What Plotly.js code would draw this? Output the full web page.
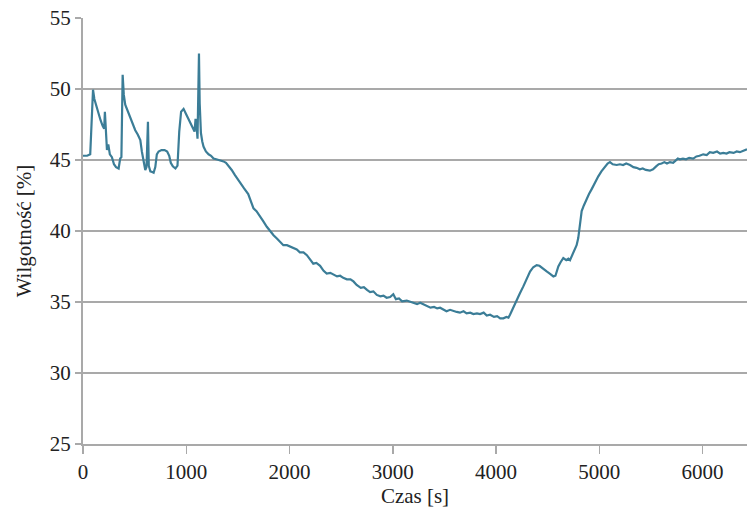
<!DOCTYPE html>
<html>
<head>
<meta charset="utf-8">
<script src="https://cdn.plot.ly/plotly-3.0.1.min.js"></script>
<style>
  html, body { margin: 0; padding: 0; background: #ffffff; }
  #chart { width: 747px; height: 514px; }
  #chart text { font-family: "Liberation Serif", "DejaVu Serif", serif !important; }
</style>
</head>
<body>
<div id="chart"></div>
<script>
// Measured humidity over time
const timeS = [
  0, 40, 70, 85, 97, 110, 130, 150, 170, 190, 205, 212, 220, 232, 245, 260, 280, 300, 320, 345,
  360, 372, 384, 395, 409, 430, 458, 480, 506, 530, 555, 570, 587, 603, 615, 629, 637, 652, 670, 684,
  700, 715, 732, 760, 790, 815, 835, 850, 870, 895, 915, 932, 950, 974, 1000, 1020, 1040, 1060, 1080, 1090,
  1100, 1109, 1116, 1123, 1130, 1142, 1155, 1167, 1190, 1216, 1240, 1264, 1290, 1320, 1361, 1385, 1409, 1440, 1470, 1500,
  1522, 1560, 1600, 1630, 1651, 1680, 1710, 1745, 1780, 1810, 1845, 1880, 1910, 1940, 1975, 2006, 2040, 2070, 2100, 2135,
  2168, 2200, 2230, 2260, 2296, 2330, 2360, 2395, 2425, 2460, 2490, 2520, 2555, 2590, 2619, 2650, 2690, 2720, 2750, 2780,
  2812, 2845, 2880, 2910, 2940, 2974, 3005, 3030, 3060, 3090, 3135, 3170, 3200, 3235, 3265, 3296, 3330, 3365, 3400, 3430,
  3458, 3490, 3520, 3555, 3590, 3619, 3650, 3685, 3715, 3750, 3780, 3815, 3845, 3880, 3910, 3942, 3980, 4010, 4040, 4071,
  4100, 4120, 4135, 4165, 4200, 4230, 4264, 4290, 4310, 4329, 4360, 4393, 4420, 4458, 4490, 4520, 4555, 4575, 4590, 4603,
  4625, 4651, 4680, 4700, 4716, 4740, 4764, 4780, 4796, 4805, 4815, 4829, 4850, 4877, 4900, 4926, 4950, 4970, 4990, 5020,
  5055, 5080, 5103, 5130, 5168, 5200, 5230, 5260, 5297, 5330, 5360, 5393, 5420, 5450, 5490, 5520, 5550, 5575, 5603, 5630,
  5655, 5684, 5715, 5740, 5760, 5780, 5810, 5840, 5870, 5909, 5940, 5970, 6006, 6040, 6070, 6103, 6140, 6170, 6200, 6232,
  6260, 6300, 6330, 6361, 6400, 6430
];

const humidityPct = [
  45.3, 45.3, 45.4, 47.5, 49.95, 49.3, 48.8, 48.2, 47.8, 47.4, 47.2, 48.4, 47.0, 45.7, 46.1, 45.4, 45.2, 44.7, 44.5, 44.4,
  45.1, 45.2, 51.0, 49.6, 48.9, 48.5, 48.1, 47.6, 47.1, 46.8, 46.4, 45.6, 44.8, 44.3, 44.5, 47.7, 44.6, 44.2, 44.15, 44.1,
  44.5, 45.4, 45.6, 45.7, 45.7, 45.6, 45.3, 44.8, 44.55, 44.4, 44.6, 47.0, 48.4, 48.6, 48.2, 47.9, 47.6, 47.3, 47.0, 47.9,
  47.4, 46.5, 49.5, 52.5, 49.0, 46.9, 46.3, 45.95, 45.6, 45.4, 45.3, 45.1, 45.05, 45.0, 44.9, 44.8, 44.6, 44.3, 43.95, 43.6,
  43.4, 43.0, 42.6, 42.0, 41.6, 41.4, 41.1, 40.7, 40.3, 40.0, 39.7, 39.45, 39.2, 39.0, 39.0, 38.9, 38.75, 38.7, 38.5, 38.5,
  38.3, 38.0, 37.7, 37.75, 37.55, 37.2, 37.0, 37.05, 36.95, 36.8, 36.85, 36.7, 36.6, 36.6, 36.45, 36.2, 36.0, 36.05, 35.85, 35.7,
  35.75, 35.5, 35.4, 35.45, 35.3, 35.35, 35.55, 35.2, 35.25, 35.05, 35.1, 35.0, 34.95, 34.85, 34.95, 34.85, 34.75, 34.6, 34.65, 34.55,
  34.6, 34.5, 34.35, 34.45, 34.35, 34.3, 34.25, 34.35, 34.2, 34.25, 34.15, 34.2, 34.15, 34.25, 34.05, 34.1, 33.95, 34.0, 33.85, 33.85,
  33.95, 33.9, 34.1, 34.6, 35.15, 35.6, 36.1, 36.5, 36.8, 37.15, 37.45, 37.6, 37.55, 37.3, 37.15, 37.0, 36.8, 36.85, 37.3, 37.5,
  37.8, 38.1, 37.95, 38.05, 37.95, 38.3, 38.7, 39.0, 39.5, 40.0, 40.9, 41.4, 41.8, 42.3, 42.6, 42.95, 43.3, 43.6, 43.85, 44.2,
  44.55, 44.75, 44.85, 44.7, 44.65, 44.7, 44.65, 44.75, 44.65, 44.5, 44.45, 44.35, 44.4, 44.3, 44.25, 44.35, 44.55, 44.7, 44.75, 44.85,
  44.75, 44.85, 44.8, 44.95, 45.1, 45.05, 45.1, 45.05, 45.15, 45.1, 45.25, 45.3, 45.4, 45.35, 45.55, 45.5, 45.6, 45.45, 45.5, 45.45,
  45.55, 45.5, 45.6, 45.55, 45.65, 45.75
];

const xTicks = [0, 1000, 2000, 3000, 4000, 5000, 6000];
const yTicks = [25, 30, 35, 40, 45, 50, 55];

const serif = "Liberation Serif";
const gridGray = "#a9a9a9";
const textColor = "#222222";

const trace = {
  x: timeS,
  y: humidityPct,
  type: "scatter",
  mode: "lines",
  line: { color: "#3b7d97", width: 2.2 },
  hoverinfo: "x+y"
};

const layout = {
  width: 747,
  height: 514,
  margin: { l: 83, r: 0, t: 18, b: 70 },
  paper_bgcolor: "#ffffff",
  plot_bgcolor: "#ffffff",
  showlegend: false,
  font: { family: serif, size: 21, color: textColor },
  xaxis: {
    range: [0, 6430],
    tickvals: xTicks,
    ticktext: xTicks.map(String),
    showgrid: false,
    zeroline: false,
    showline: true,
    linecolor: gridGray,
    linewidth: 2,
    ticks: "outside",
    ticklen: 8,
    tickwidth: 1.5,
    tickcolor: gridGray,
    tickfont: { family: serif, size: 21, color: textColor },
    title: { text: "Czas [s]", font: { family: serif, size: 21, color: textColor }, standoff: 4 }
  },
  yaxis: {
    range: [25, 55],
    tickvals: yTicks,
    ticktext: yTicks.map(String),
    showgrid: true,
    gridcolor: gridGray,
    gridwidth: 2,
    zeroline: false,
    showline: true,
    linecolor: gridGray,
    linewidth: 2,
    ticks: "outside",
    ticklen: 6,
    tickwidth: 1.5,
    tickcolor: gridGray,
    tickfont: { family: serif, size: 21, color: textColor },
    title: { text: "Wilgotność [%]", font: { family: serif, size: 21, color: textColor }, standoff: 12 }
  }
};

Plotly.newPlot("chart", [trace], layout, { displayModeBar: false, staticPlot: true });
</script>
</body>
</html>
